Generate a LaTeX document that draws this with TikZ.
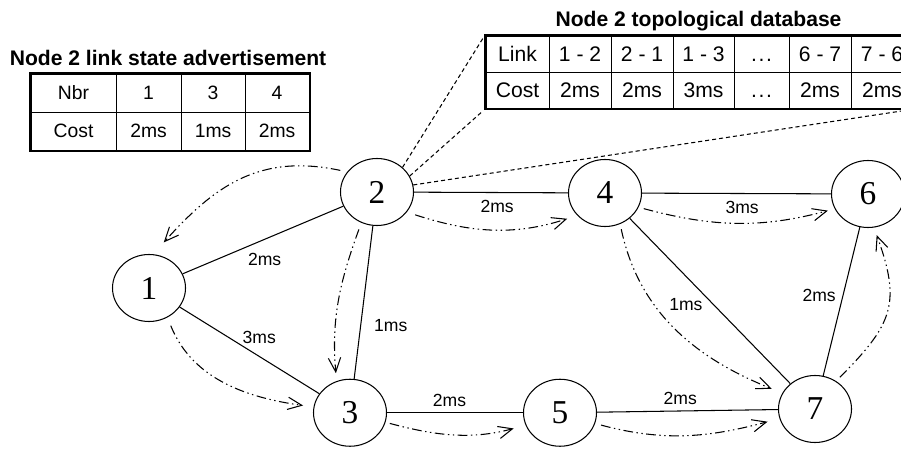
\documentclass[tikz,border=0pt]{standalone}
\usepackage{fontspec}
\setmainfont{Liberation Sans}
\newfontfamily\routerfont{Liberation Serif}
\usepackage{tikz}
\usetikzlibrary{shapes,arrows.meta,matrix}
\tikzset{
	router/.style   = {draw, ellipse, semithick, minimum width = 1.46cm,
		minimum height = 1.34cm, inner sep = 0pt,
		font = \routerfont\fontsize{19}{19}\selectfont},
	cell/.style     = {draw, line width = 0.6pt, minimum height = 0.76cm,
		inner sep = 0pt, anchor = center},
	table/.style    = {matrix of nodes, inner sep = 0pt, column sep = -0.6pt,
		row sep = -0.6pt, anchor = north west},
	flood/.style    = {-{Straight Barb[length=8pt,width=7pt]}, semithick,
		dash pattern = on 5.5pt off 2pt on 0.8pt off 2pt on 0.8pt off 2pt},
	sync/.style     = {dash pattern = on 2.3pt off 1.7pt}, % to the database
	cost/.style     = {font = \fontsize{10}{12}\selectfont},
	heading/.style  = {font = \bfseries\fontsize{12}{14}\selectfont, anchor = base}
}
\newcommand{\skipped}{\vphantom{0}.\kern1pt.\kern1pt.}

\begin{document}
\begin{tikzpicture}[semithick]
	\useasboundingbox (0,0) rectangle (18.02,8.98);

	\draw
	node at (2.98,3.22)[router] (n1) {1}
	node at (7.54,5.14)[router] (n2) {2}
	node at (7.00,0.725)[router] (n3) {3}
	node at (12.10,5.12)[router] (n4) {4}
	node at (11.20,0.725)[router] (n5) {5}
	node at (17.36,5.10)[router] (n6) {6}
	node at (16.30,0.80)[router] (n7) {7};

	% links
	\draw (n1) -- node[cost, pos=0.51, below=4.5pt] {2ms} (n2);
	\draw (n1) -- node[cost, pos=0.57, above=3.4pt] {3ms} (n3);
	\draw (n2) -- node[cost, pos=0.65, right=4pt] {1ms} (n3);
	\draw (n2) -- node[cost, pos=0.54, below=1pt] {2ms} (n4);
	\draw (n4) -- node[cost, pos=0.53, below=0.7pt] {3ms} (n6);
	\draw (n4) -- node[cost, pos=0.52, left=2.5pt] {1ms} (n7);
	\draw (n6) -- node[cost, pos=0.46, left=0.5pt] {2ms} (n7);
	\draw (n3) -- node[cost, pos=0.46, above=0pt] {2ms} (n5);
	\draw (n5) -- node[cost, pos=0.46, above=0pt] {2ms} (n7);

	% flooding
	\draw[flood, shorten <=4pt, shorten >=9pt] (n2.146) to[out=168, in=48, looseness=1.1] (n1.83);
	\draw[flood, shorten <=4pt, shorten >=4.5pt] (n2.243) to[out=250, in=95] (n3.113);
	\draw[flood, shorten <=5pt, shorten >=6pt] (n2.326) to[out=-18, in=198] (n4.219);
	\draw[flood, shorten <=5pt, shorten >=6pt] (n1.-58) to[out=-68, in=172] (n3.171);
	\draw[flood, shorten <=2.5pt, shorten >=7pt] (n3.-15) to[out=-15, in=195] (n5.200);
	\draw[flood, shorten <=3.5pt, shorten >=7pt] (n5.-17) to[out=-15, in=195] (n7.195);
	\draw[flood, shorten <=3pt, shorten >=4pt] (n4.-23) to[out=-15, in=195] (n6.204);
	\draw[flood, shorten <=3pt, shorten >=6.5pt] (n4.-64) to[out=-78, in=158] (n7.154);
	\draw[flood, shorten <=3pt, shorten >=4.5pt] (n7.53) to[out=45, in=-70, looseness=1.3] (n6.-80);

	% link state advertisement
	\node[heading] (lsatitle) at (3.36,7.66) {Node 2 link state advertisement};
	\matrix (lsa) at (0.60,7.52) [table,
		nodes = {cell, font = \fontsize{11}{13}\selectfont},
		column 1/.style = {nodes = {minimum width = 1.70cm}},
		column 2/.style = {nodes = {minimum width = 1.30cm}},
		column 3/.style = {nodes = {minimum width = 1.28cm}},
		column 4/.style = {nodes = {minimum width = 1.28cm}}]
	{
		Nbr  & 1   & 3   & 4   \\
		Cost & 2ms & 1ms & 2ms \\
	};
	\draw[line width=1.4pt] (lsa.north west) rectangle (lsa.south east);

	% topological database
	\node[heading] (dbtitle) at (13.97,8.44) {Node 2 topological database};
	\matrix (db) at (9.70,8.28) [table,
		nodes = {cell, minimum height = 0.72cm, font = \fontsize{12}{14}\selectfont},
		column 1/.style = {nodes = {minimum width = 1.26cm}},
		column 2/.style = {nodes = {minimum width = 1.24cm}},
		column 3/.style = {nodes = {minimum width = 1.24cm}},
		column 4/.style = {nodes = {minimum width = 1.22cm}},
		column 5/.style = {nodes = {minimum width = 1.10cm}},
		column 6/.style = {nodes = {minimum width = 1.24cm}},
		column 7/.style = {nodes = {minimum width = 1.24cm}}]
	{
		Link & 1 - 2 & 2 - 1 & 1 - 3 & \skipped & 6 - 7 & 7 - 6 \\
		Cost & 2ms   & 2ms   & 3ms   & \skipped & 2ms   & 2ms   \\
	};
	\draw[line width=1.4pt] (db.north west) rectangle (db.south east);

	\draw[sync, shorten >=2pt] (n2.44) -- (db.north west);
	\draw[sync, shorten >=2pt] (n2.26) -- (db.south west);
	\draw[sync, shorten >=2pt] (n2.11) -- (db.south east);

\end{tikzpicture}
\end{document}
